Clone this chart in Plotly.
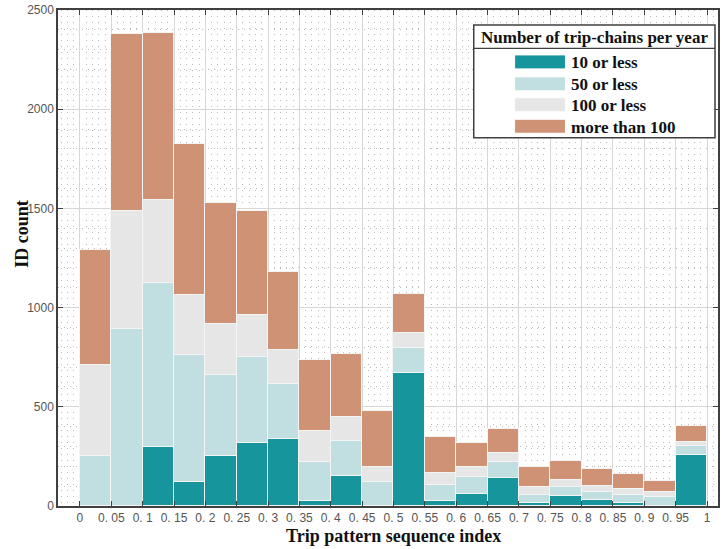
import plotly.graph_objects as go

# Histogram bins of the trip pattern sequence index (left edges, width 0.05)
bin_left = [0.00, 0.05, 0.10, 0.15, 0.20, 0.25, 0.30, 0.35, 0.40, 0.45,
            0.50, 0.55, 0.60, 0.65, 0.70, 0.75, 0.80, 0.85, 0.90, 0.95]
bin_width = 0.05

# ID counts per bin, split by number of trip-chains per year
count_10_or_less = [0, 0, 298, 119, 250, 317, 340, 27, 152, 0,
                    668, 27, 60, 139, 17, 50, 30, 17, 0, 258]
count_50_or_less = [251, 890, 826, 641, 411, 436, 275, 193, 178, 122,
                    130, 79, 88, 81, 40, 47, 40, 40, 44, 45]
count_100_or_less = [458, 595, 420, 306, 256, 209, 173, 157, 119, 74,
                     74, 58, 47, 48, 37, 34, 31, 27, 28, 22]
count_more_than_100 = [582, 894, 842, 758, 610, 525, 392, 361, 316, 282,
                       198, 183, 125, 119, 104, 94, 84, 75, 54, 76]

series_names = ["10 or less", "50 or less", "100 or less", "more than 100"]
series_values = [count_10_or_less, count_50_or_less, count_100_or_less, count_more_than_100]
series_colors = ["#17959c", "#c1dfe1", "#e6e6e6", "#d09274"]

x_tick_vals = [round(i * 0.05, 2) for i in range(21)]
x_tick_text = ["0", "0. 05", "0. 1", "0. 15", "0. 2", "0. 25", "0. 3", "0. 35", "0. 4", "0. 45",
               "0. 5", "0. 55", "0. 6", "0. 65", "0. 7", "0. 75", "0. 8", "0. 85", "0. 9", "0. 95", "1"]
y_tick_vals = [0, 500, 1000, 1500, 2000, 2500]

legend_title = "Number of trip-chains per year"
x_title = "Trip pattern sequence index"
y_title = "ID count"

W, H = 723, 549
M_L, M_R, M_T, M_B = 58, 3, 9, 43
PW, PH = W - M_L - M_R, H - M_T - M_B

centers = [b + bin_width / 2 for b in bin_left]

fig = go.Figure()
for name, vals, col in zip(series_names, series_values, series_colors):
    fig.add_trace(go.Bar(
        x=centers, y=vals, width=bin_width, name=name,
        marker=dict(color=col, line=dict(color="#f4f4f4", width=1.2)),
        showlegend=False,
    ))

serif = "Liberation Serif"
sans = "Liberation Sans"


def px_x(p):
    return (p - M_L) / PW


def px_y(p):
    return (H - M_B - p) / PH


shapes = []
annotations = []

# legend box with a title row
lx0, lx1, ly0, ly1, lsep = 475, 717, 24, 137, 47.5
shapes.append(dict(type="rect", xref="paper", yref="paper",
                   x0=px_x(lx0), x1=px_x(lx1), y0=px_y(ly1), y1=px_y(ly0),
                   fillcolor="white", line=dict(color="#404040", width=1.5), layer="above"))
shapes.append(dict(type="line", xref="paper", yref="paper",
                   x0=px_x(lx0), x1=px_x(lx1), y0=px_y(lsep), y1=px_y(lsep),
                   line=dict(color="#404040", width=1.2), layer="above"))
annotations.append(dict(xref="paper", yref="paper", x=px_x((lx0 + lx1) / 2), y=px_y(36.5),
                        text="<b>" + legend_title + "</b>", showarrow=False,
                        xanchor="center", yanchor="middle",
                        font=dict(family=serif, size=17, color="#111")))
row_y = [61, 83, 104, 125.5]
for name, col, ry in zip(series_names, series_colors, row_y):
    shapes.append(dict(type="rect", xref="paper", yref="paper",
                       x0=px_x(516), x1=px_x(567), y0=px_y(ry + 7), y1=px_y(ry - 7),
                       fillcolor=col, line=dict(color="white", width=1), layer="above"))
    annotations.append(dict(xref="paper", yref="paper", x=px_x(571), y=px_y(ry + 1),
                            text="<b>" + name + "</b>", showarrow=False,
                            xanchor="left", yanchor="middle",
                            font=dict(family=serif, size=17, color="#111")))

# axis titles
annotations.append(dict(xref="paper", yref="paper", x=px_x(395), y=px_y(536),
                        text="<b>" + x_title + "</b>", showarrow=False,
                        xanchor="center", yanchor="middle",
                        font=dict(family=serif, size=18, color="#111")))
annotations.append(dict(xref="paper", yref="paper", x=px_x(21), y=px_y(233),
                        text="<b>" + y_title + "</b>", showarrow=False, textangle=-90,
                        xanchor="center", yanchor="middle",
                        font=dict(family=serif, size=18, color="#111")))

axis_common = dict(
    showline=True, linecolor="#404040", linewidth=1.5, mirror="ticks",
    ticks="inside", ticklen=5, tickcolor="#404040", tickwidth=1.2,
    showgrid=True, gridcolor="#d6d6d6", gridwidth=1,
    zeroline=False,
    tickfont=dict(family=sans, size=12, color="#555"),
)

fig.update_layout(
    width=W, height=H,
    margin=dict(l=M_L, r=M_R, t=M_T, b=M_B),
    paper_bgcolor="white", plot_bgcolor="white",
    barmode="stack", bargap=0,
    shapes=shapes, annotations=annotations,
    xaxis=dict(range=[-0.035, 1.0175], tickmode="array",
               tickvals=x_tick_vals, ticktext=x_tick_text,
               minor=dict(dtick=0.01, tick0=0, showgrid=True, gridcolor="#bdbdbd",
                          griddash="1px,5px", gridwidth=1, ticks=""),
               **axis_common),
    yaxis=dict(range=[0, 2500], tickmode="array", tickvals=y_tick_vals,
               minor=dict(dtick=100, tick0=0, showgrid=True, gridcolor="#bdbdbd",
                          griddash="1px,5px", gridwidth=1, ticks=""),
               **axis_common),
)

fig.write_html("out.html")
